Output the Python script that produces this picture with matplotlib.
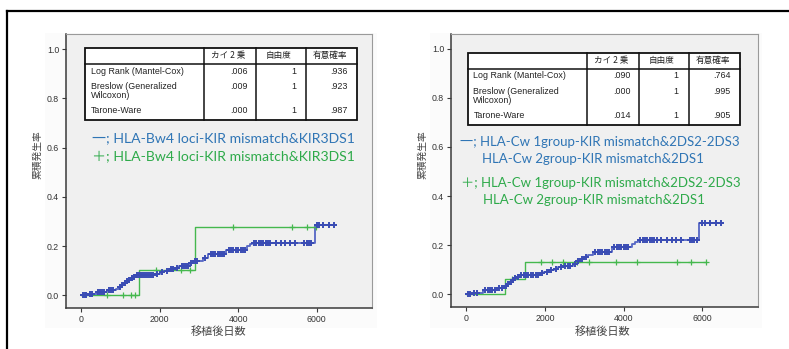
import numpy as np
import matplotlib
matplotlib.use("Agg")
import matplotlib.pyplot as plt
from matplotlib.lines import Line2D
from matplotlib.patches import Rectangle

# ---------------- data ----------------
x_ticks = [0, 2000, 4000, 6000]
y_ticks = [0.0, 0.2, 0.4, 0.6, 0.8, 1.0]
y_tick_labels = ["0.0", "0.2", "0.4", "0.6", "0.8", "1.0"]
x_label = "移植後日数"
y_label = "累積発生率"

table_header = ["", "カイ 2 乗", "自由度", "有意確率"]
table_rows = ["Log Rank (Mantel-Cox)", "Breslow (Generalized\nWilcoxon)", "Tarone-Ware"]
left_chi = [".006", ".009", ".000"]
left_df = ["1", "1", "1"]
left_p = [".936", ".923", ".987"]
right_chi = [".090", ".000", ".014"]
right_df = ["1", "1", "1"]
right_p = [".764", ".995", ".905"]

left_legend_blue = ["一; HLA-Bw4 loci-KIR mismatch&KIR3DS1"]
left_legend_green = ["＋; HLA-Bw4 loci-KIR mismatch&KIR3DS1"]
right_legend_blue = ["一; HLA-Cw 1group-KIR mismatch&2DS2-2DS3", "HLA-Cw 2group-KIR mismatch&2DS1"]
right_legend_green = ["＋; HLA-Cw 1group-KIR mismatch&2DS2-2DS3", "HLA-Cw 2group-KIR mismatch&2DS1"]

# left chart, blue group (step times / cumulative incidence)
lb_t = [0, 160, 400, 650, 900, 960, 1020, 1080, 1140, 1200, 1260, 1320, 1380,
        1880, 2000, 2120, 2250, 2400, 2500, 2770, 2850, 3110, 3240, 3700, 4220, 4300, 4343, 5950]
lb_v = [0, 0.005, 0.015, 0.02, 0.027, 0.035, 0.043, 0.050, 0.057, 0.063, 0.069, 0.074, 0.081,
        0.088, 0.095, 0.100, 0.105, 0.112, 0.119, 0.132, 0.140, 0.150, 0.166, 0.184, 0.200, 0.208, 0.214, 0.286]
lb_end = 6480
lb_cens = [40, 90, 130, 230, 280, 430, 480, 530, 580, 700, 760, 820, 1000, 1050, 1110, 1170, 1230, 1290,
           1350, 1420, 1470, 1520, 1570, 1620, 1680, 1730, 1790, 1840, 1930, 2050, 2180, 2300, 2350,
           2450, 2560, 2620, 2680, 2730, 2800, 2900, 2960, 3150, 3300, 3360, 3420, 3480, 3540, 3600, 3650,
           3760, 3820, 3880, 3940, 4000, 4060, 4120, 4180, 4400, 4460, 4520, 4580, 4640, 4700, 4760,
           4820, 4950, 5080, 5200, 5320, 5450, 5680, 5740, 5800, 5860, 6000, 6060, 6150, 6300, 6450]

# left chart, green group
lg_t = [0, 1484, 2901]
lg_v = [0, 0.103, 0.279]
lg_end = 5990
lg_cens = [669, 1076, 1264, 1374, 1900, 2545, 2774, 3860, 5369, 5758, 5980]

# right chart, blue group
rb_t = [0, 137, 433, 773, 985, 1040, 1100, 1160, 1220, 1280, 1366,
        1874, 1980, 2100, 2220, 2340, 2467, 2721, 2800, 2900, 3000, 3100, 3230, 3697, 4205, 4290, 4373, 5925]
rb_v = [0, 0.005, 0.0175, 0.024, 0.033, 0.042, 0.050, 0.058, 0.065, 0.072, 0.079,
        0.085, 0.092, 0.099, 0.104, 0.110, 0.115, 0.125, 0.134, 0.143, 0.152, 0.161, 0.174, 0.191, 0.205, 0.214, 0.221, 0.292]
rb_end = 6490
rb_cens = [50, 100, 200, 260, 480, 540, 600, 660, 720, 830, 900, 1010, 1070, 1130, 1190, 1250, 1320,
           1400, 1460, 1520, 1580, 1640, 1700, 1760, 1820, 1920, 2040, 2160, 2280, 2400, 2520, 2580,
           2640, 2760, 2850, 2950, 3050, 3280, 3340, 3400, 3460, 3520, 3580, 3640, 3760, 3820, 3880,
           3940, 4000, 4060, 4120, 4420, 4480, 4540, 4600, 4660, 4720, 4780, 4840, 4960, 5100, 5220,
           5340, 5460, 5680, 5740, 5800, 5860, 6000, 6060, 6200, 6350, 6480]

# right chart, green group
rg_t = [0, 976, 1484]
rg_v = [0, 0.061, 0.131]
rg_end = 6100
rg_cens = [1150, 1892, 2172, 2467, 2806, 3120, 3815, 4349, 5357, 5713, 6087]

# ---------------- style ----------------
W, H = 789, 349
fig = plt.figure(figsize=(W / 100, H / 100), dpi=100)
fig.patch.set_facecolor("white")

BLUE_LINE = "#5566c4"
BLUE_MARK = "#3a4cb4"
GREEN = "#45b84e"
TXT_BLUE = "#2f75b5"
TXT_GREEN = "#2eaa4a"


def fx(px):
    return px / W


def fy(py):
    return 1 - py / H


# outer frame
fig.add_artist(Line2D([fx(7), fx(789)], [fy(10.5), fy(10.5)], color="black", lw=1.6))
fig.add_artist(Line2D([fx(7), fx(7)], [fy(10.5), fy(349)], color="black", lw=1.6))


def step_value(ts, vs, c):
    i = np.searchsorted(ts, c, side="right") - 1
    return vs[max(i, 0)]


def draw_curve(ax, ts, vs, end, cens, lcol, mcol, lw, ms, mew):
    xs = list(ts) + [end]
    ys = list(vs) + [vs[-1]]
    ax.step(xs, ys, where="post", color=lcol, lw=lw, zorder=3)
    cy = [step_value(np.array(ts), vs, c) for c in cens]
    ax.plot(cens, cy, ls="none", marker="+", color=mcol, ms=ms, mew=mew, zorder=4)


def make_axes(rect_px, xlim, ylim):
    x0, y0, x1, y1 = rect_px
    ax = fig.add_axes([fx(x0), fy(y1), fx(x1) - fx(x0), fy(y0) - fy(y1)])
    ax.set_facecolor("#f0f0f0")
    ax.set_xlim(*xlim)
    ax.set_ylim(*ylim)
    for s in ["top", "right", "left", "bottom"]:
        ax.spines[s].set_color("#3a3a3a")
        ax.spines[s].set_linewidth(1.1)
    ax.spines["top"].set_color("#9a9a9a")
    ax.spines["right"].set_color("#9a9a9a")
    ax.spines["top"].set_linewidth(0.8)
    ax.spines["right"].set_linewidth(0.8)
    ax.set_xticks(x_ticks)
    ax.set_yticks(y_ticks)
    ax.set_yticklabels(y_tick_labels)
    ax.tick_params(axis="both", direction="out", length=3, width=0.8, color="#3a3a3a",
                   labelsize=6.3, labelcolor="#333333", pad=2)
    for lab in ax.get_xticklabels() + ax.get_yticklabels():
        lab.set_family("Liberation Sans")
    return ax


def draw_table(x0, y0, chi, dfv, pv):
    # x0,y0: pixel top-left of table (width 272, height 72)
    w, h = 272, 72
    hb = 16
    cols = [119, 171, 221]
    fig.add_artist(Rectangle((fx(x0), fy(y0 + h)), w / W, h / H, facecolor="white",
                             edgecolor="#111111", lw=1.3, zorder=5))
    fig.add_artist(Line2D([fx(x0), fx(x0 + w)], [fy(y0 + hb), fy(y0 + hb)], color="#111111", lw=1.1, zorder=6))
    for c in cols:
        fig.add_artist(Line2D([fx(x0 + c), fx(x0 + c)], [fy(y0), fy(y0 + h)], color="#111111", lw=1.1, zorder=6))
    hx = [None, 143, 194, 245]
    for i in range(1, 4):
        fig.text(fx(x0 + hx[i]), fy(y0 + 7.8), table_header[i], ha="center", va="center",
                 fontsize=6.2, family=["Noto Sans CJK JP"], color="#222222", zorder=7)
    row_y = [23.3, 38.3, 62.3]
    for r, name in enumerate(table_rows):
        yy = row_y[r]
        if "\n" in name:
            a, b = name.split("\n")
            fig.text(fx(x0 + 5.7), fy(y0 + yy), a, ha="left", va="center", fontsize=6.4,
                     family="Liberation Sans", color="#222222", zorder=7)
            fig.text(fx(x0 + 5.7), fy(y0 + yy + 9.4), b, ha="left", va="center", fontsize=6.4,
                     family="Liberation Sans", color="#222222", zorder=7)
        else:
            fig.text(fx(x0 + 5.7), fy(y0 + yy), name, ha="left", va="center", fontsize=6.4,
                     family="Liberation Sans", color="#222222", zorder=7)
        fig.text(fx(x0 + 163), fy(y0 + yy), chi[r], ha="right", va="center", fontsize=6.4,
                 family="Liberation Sans", color="#222222", zorder=7)
        fig.text(fx(x0 + 211), fy(y0 + yy), dfv[r], ha="right", va="center", fontsize=6.4,
                 family="Liberation Sans", color="#222222", zorder=7)
        fig.text(fx(x0 + 262.5), fy(y0 + yy), pv[r], ha="right", va="center", fontsize=6.4,
                 family="Liberation Sans", color="#222222", zorder=7)


LEG_FONT = ["Lato", "Noto Sans CJK JP"]
LEG_SIZE_L = 10.1
LEG_SIZE_R = 9.5

# light chart panels
for (a, b, c, d) in [(45, 33, 377, 328), (430, 33, 762, 328)]:
    fig.add_artist(Rectangle((fx(a), fy(d)), (c - a) / W, (d - b) / H, facecolor="#fbfbfb",
                             edgecolor="none", zorder=0))

# ---------------- left chart ----------------
axL = make_axes((66, 34, 372, 308), (-382, 7405), (-0.0516, 1.062))
draw_curve(axL, lg_t, lg_v, lg_end, lg_cens, GREEN, GREEN, 1.0, 4.5, 0.9)
draw_curve(axL, lb_t, lb_v, lb_end, lb_cens, BLUE_LINE, BLUE_MARK, 1.3, 5, 1.4)
draw_table(85, 48, left_chi, left_df, left_p)
fig.text(fx(92), fy(137.7), left_legend_blue[0], ha="left", va="center", fontsize=LEG_SIZE_L,
         family=LEG_FONT, color=TXT_BLUE)
fig.text(fx(92), fy(156.7), left_legend_green[0], ha="left", va="center", fontsize=LEG_SIZE_L,
         family=LEG_FONT, color=TXT_GREEN)
fig.text(fx(37.7), fy(155), y_label, rotation=90, ha="center", va="center", fontsize=7,
         family=["Noto Sans CJK JP"], color="#444444")
fig.text(fx(219), fy(332), x_label, ha="center", va="center", fontsize=8,
         family=["Noto Sans CJK JP"], color="#444444")

# ---------------- right chart ----------------
axR = make_axes((451, 34, 757.7, 307), (-389, 7409), (-0.0517, 1.06))
draw_curve(axR, rg_t, rg_v, rg_end, rg_cens, GREEN, GREEN, 1.0, 4.5, 0.9)
draw_curve(axR, rb_t, rb_v, rb_end, rb_cens, BLUE_LINE, BLUE_MARK, 1.3, 5, 1.4)
draw_table(467.7, 52.7, right_chi, right_df, right_p)
fig.text(fx(460), fy(141.7), right_legend_blue[0], ha="left", va="center", fontsize=LEG_SIZE_R,
         family=LEG_FONT, color=TXT_BLUE)
fig.text(fx(481.7), fy(159.3), right_legend_blue[1], ha="left", va="center", fontsize=LEG_SIZE_R,
         family=LEG_FONT, color=TXT_BLUE)
fig.text(fx(461), fy(182.7), right_legend_green[0], ha="left", va="center", fontsize=LEG_SIZE_R,
         family=LEG_FONT, color=TXT_GREEN)
fig.text(fx(483.3), fy(200.3), right_legend_green[1], ha="left", va="center", fontsize=LEG_SIZE_R,
         family=LEG_FONT, color=TXT_GREEN)
fig.text(fx(422.3), fy(155), y_label, rotation=90, ha="center", va="center", fontsize=7,
         family=["Noto Sans CJK JP"], color="#444444")
fig.text(fx(603), fy(332), x_label, ha="center", va="center", fontsize=8,
         family=["Noto Sans CJK JP"], color="#444444")

fig.savefig("out.png", dpi=100)
